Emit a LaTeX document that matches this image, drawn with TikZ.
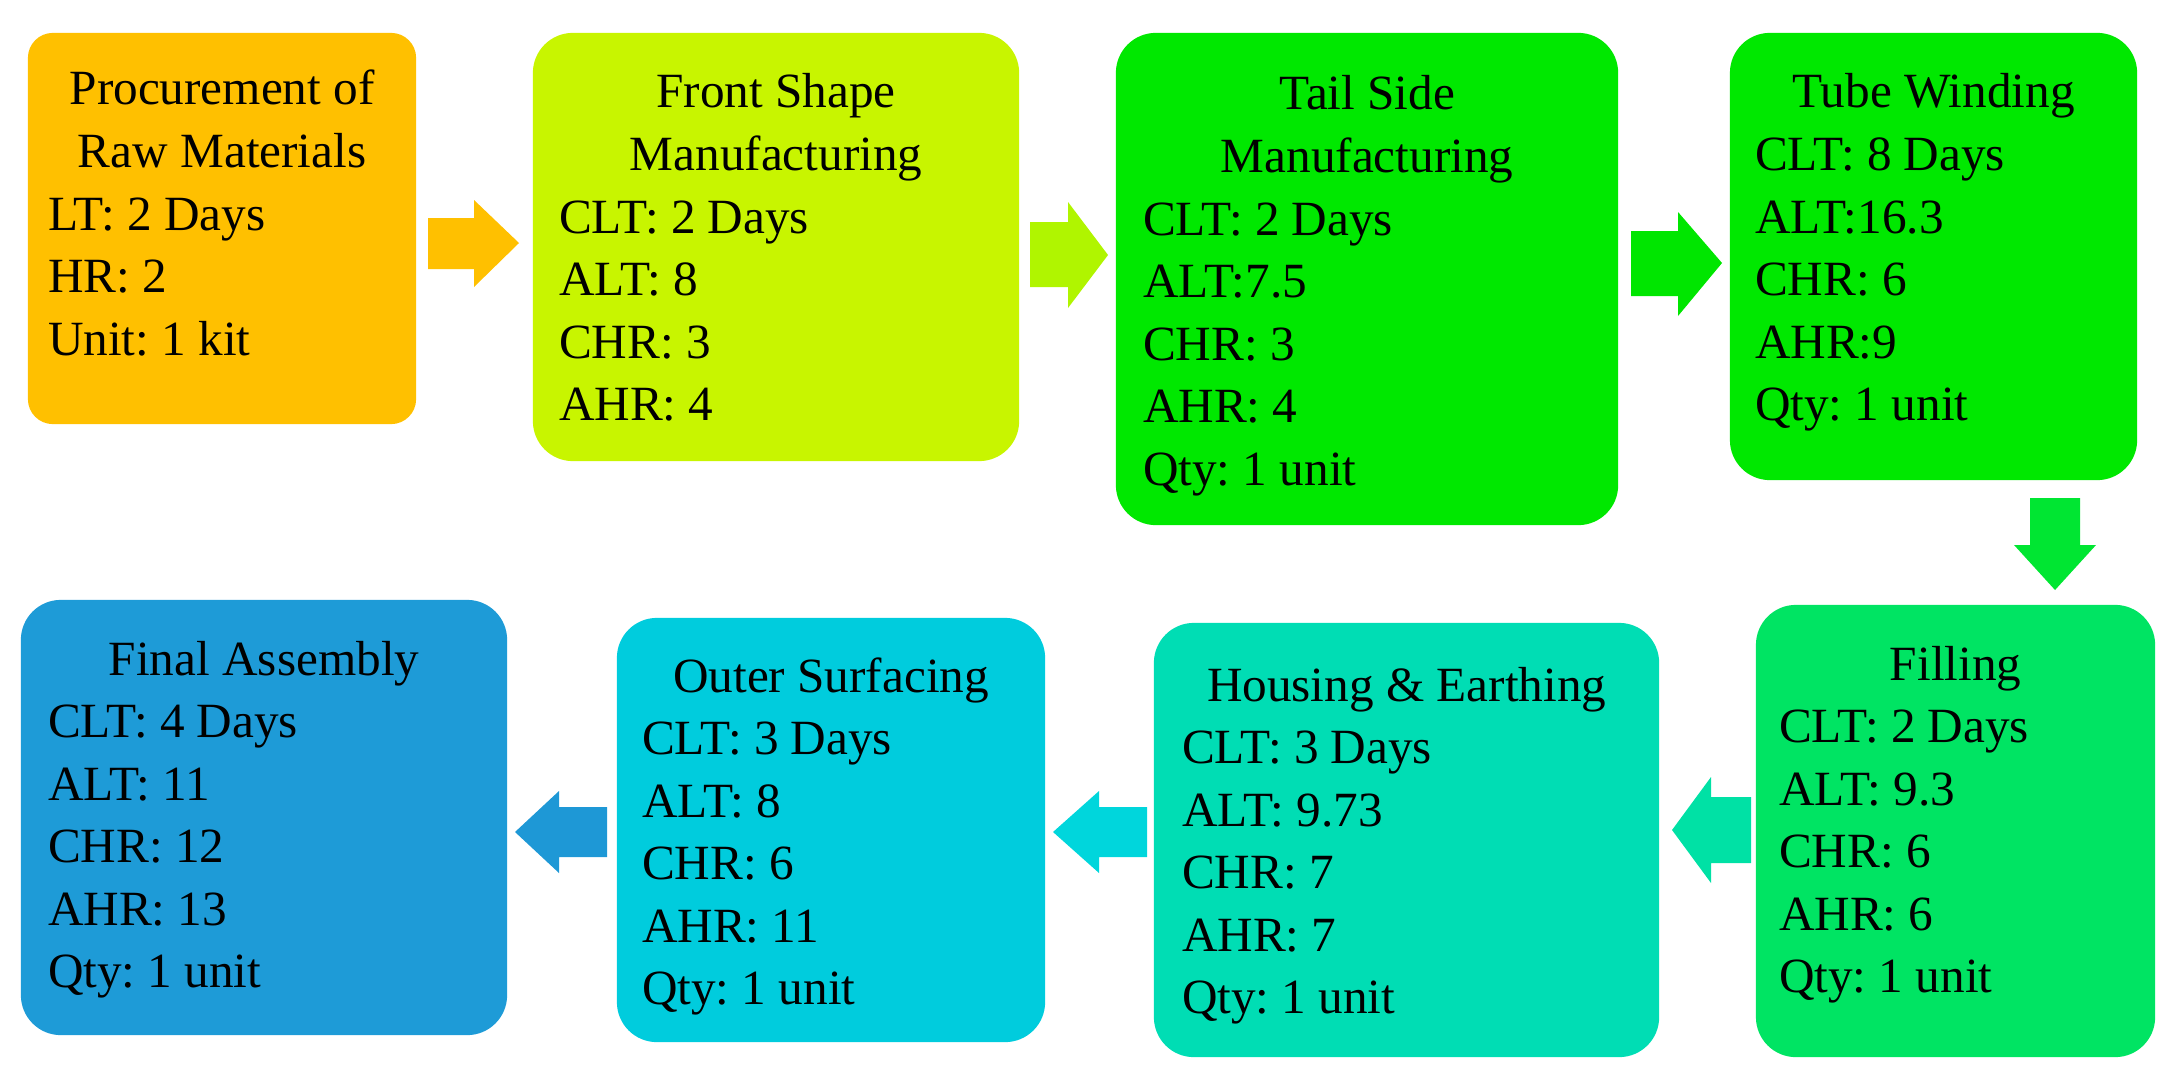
\documentclass[tikz,border=0pt]{standalone}
\usepackage{fontspec}
\setmainfont{Liberation Serif}
\frenchspacing
\definecolor{cA}{HTML}{FFC000}
\definecolor{aA}{HTML}{FFC000}
\definecolor{cB}{HTML}{C8F500}
\definecolor{aB}{HTML}{B0F500}
\definecolor{cC}{HTML}{00E800}
\definecolor{aC}{HTML}{00E600}
\definecolor{cD}{HTML}{00E800}
\definecolor{aD}{HTML}{00E632}
\definecolor{cE}{HTML}{00E463}
\definecolor{aE}{HTML}{00E1A5}
\definecolor{cF}{HTML}{00DDB4}
\definecolor{aF}{HTML}{00D6DC}
\definecolor{cG}{HTML}{00CCDD}
\definecolor{aG}{HTML}{1E98D6}
\definecolor{cH}{HTML}{1E9BD7}
\tikzset{
  stagebox/.style={draw=none, rounded corners=0.4cm, inner sep=0pt},
  stagetext/.style={anchor=base west, inner sep=0pt, outer sep=0pt,
    font=\fontsize{14pt}{17.8pt}\selectfont},
  blockarrow/.style={draw=none}
}
\newcommand{\stagetxt}[3]{\begin{minipage}[t]{#1}\frenchspacing\centering #2\par\raggedright #3\end{minipage}}
\begin{document}
\begin{tikzpicture}[x=0.01cm,y=-0.01cm]
\useasboundingbox (0,0) rectangle (2180,1088);
% boxes
\node[stagebox, fill=cA, rounded corners=0.25cm, minimum width=3.88cm, minimum height=3.91cm] (b1) at (222,228.5) {};
\node[stagebox, fill=cB, minimum width=4.86cm, minimum height=4.28cm] (b2) at (776,247) {};
\node[stagebox, fill=cC, minimum width=5.02cm, minimum height=4.92cm] (b3) at (1367,279) {};
\node[stagebox, fill=cD, minimum width=4.07cm, minimum height=4.47cm] (b4) at (1933.5,256.5) {};
\node[stagebox, fill=cE, minimum width=3.99cm, minimum height=4.52cm] (b5) at (1955.5,831) {};
\node[stagebox, fill=cF, minimum width=5.05cm, minimum height=4.34cm] (b6) at (1406.5,840) {};
\node[stagebox, fill=cG, minimum width=4.28cm, minimum height=4.24cm] (b7) at (831,830) {};
\node[stagebox, fill=cH, minimum width=4.86cm, minimum height=4.35cm] (b8) at (264,817.5) {};
% texts
\node[stagetext] (t1) at (48,105) {\stagetxt{3.48cm}{Procurement of\\Raw Materials}{LT: 2 Days\\HR: 2\\Unit: 1 kit}};
\node[stagetext] (t2) at (559,108) {\stagetxt{4.34cm}{Front Shape\\Manufacturing}{CLT: 2 Days\\ALT: 8\\CHR: 3\\AHR: 4}};
\node[stagetext] (t3) at (1143,110) {\stagetxt{4.48cm}{Tail Side\\Manufacturing}{CLT: 2 Days\\ALT:7.5\\CHR: 3\\AHR: 4\\Qty: 1 unit}};
\node[stagetext] (t4) at (1755,108) {\stagetxt{3.57cm}{Tube Winding}{CLT: 8 Days\\ALT:16.3\\CHR: 6\\AHR:9\\Qty: 1 unit}};
\node[stagetext] (t5) at (1779,680) {\stagetxt{3.53cm}{Filling}{CLT: 2 Days\\ALT: 9.3\\CHR: 6\\AHR: 6\\Qty: 1 unit}};
\node[stagetext] (t6) at (1182,701) {\stagetxt{4.49cm}{Housing \& Earthing}{CLT: 3 Days\\ALT: 9.73\\CHR: 7\\AHR: 7\\Qty: 1 unit}};
\node[stagetext] (t7) at (642,692) {\stagetxt{3.78cm}{Outer Surfacing}{CLT: 3 Days\\ALT: 8\\CHR: 6\\AHR: 11\\Qty: 1 unit}};
\node[stagetext] (t8) at (48,675) {\stagetxt{4.32cm}{Final Assembly}{CLT: 4 Days\\ALT: 11\\CHR: 12\\AHR: 13\\Qty: 1 unit}};
% block arrows
\fill[blockarrow, aA] (428,218) -- (474,218) -- (474,200) -- (519,243) -- (474,287) -- (474,269) -- (428,269) -- cycle;
\fill[blockarrow, aB] (1030,222) -- (1068,222) -- (1068,202) -- (1108,255) -- (1068,308) -- (1068,287) -- (1030,287) -- cycle;
\fill[blockarrow, aC] (1631,231) -- (1678,231) -- (1678,212) -- (1722,263) -- (1678,316) -- (1678,296) -- (1631,296) -- cycle;
\fill[blockarrow, aD] (2030,498) -- (2080,498) -- (2080,545) -- (2096,545) -- (2055,590) -- (2014,545) -- (2030,545) -- cycle;
\fill[blockarrow, aE] (1751,797) -- (1711,797) -- (1711,777) -- (1672,830) -- (1711,883) -- (1711,863) -- (1751,863) -- cycle;
\fill[blockarrow, aF] (1147,807) -- (1099,807) -- (1099,791) -- (1053,832) -- (1099,873) -- (1099,857) -- (1147,857) -- cycle;
\fill[blockarrow, aG] (607,807) -- (559,807) -- (559,791) -- (515,832) -- (559,873) -- (559,857) -- (607,857) -- cycle;
\end{tikzpicture}
\end{document}
